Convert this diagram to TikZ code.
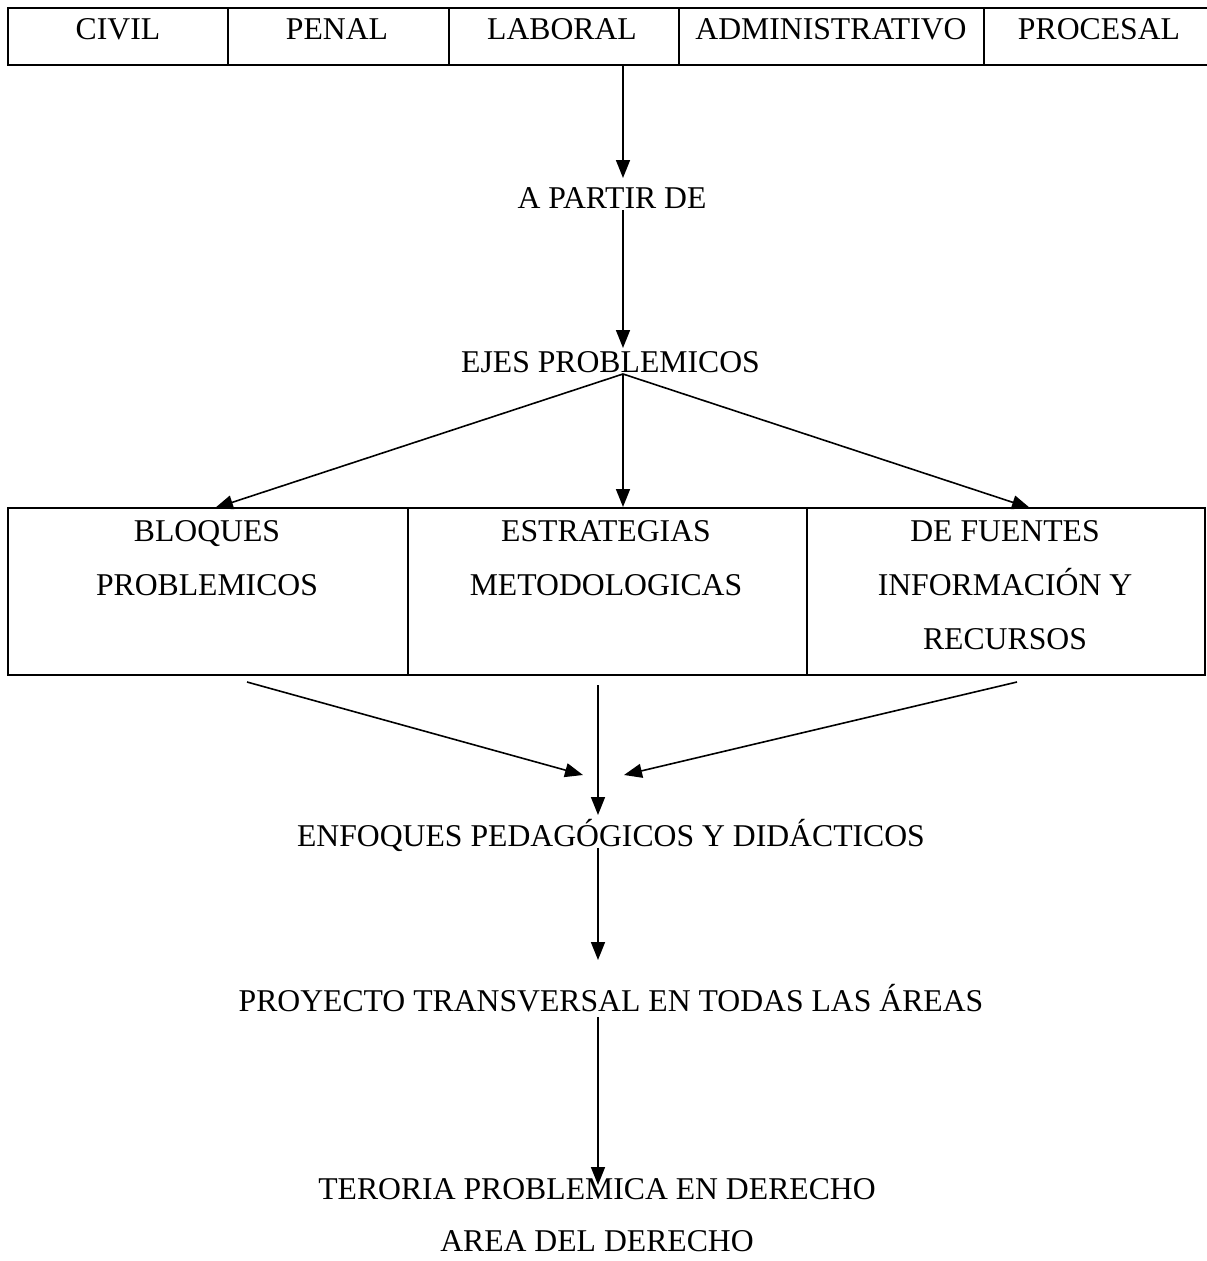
\documentclass[tikz,border=0pt]{standalone}
\usepackage{fontspec}
\setmainfont{Liberation Serif}
\usetikzlibrary{arrows.meta}
\begin{document}
\begin{tikzpicture}[x=1pt,y=-1pt,
  txt/.style={font=\fontsize{31.7}{38}\selectfont, inner sep=0pt, anchor=base},
  arr/.style={line width=1.6pt, -{Triangle[length=18pt,width=14pt]}},
  frame/.style={line width=2pt},
  cell/.style={draw, line width=2pt, inner sep=0pt, minimum height=167pt}]
\useasboundingbox (0,0) rectangle (1207,1261);
% top table
\draw[line width=2.6pt] (1207,8) -- (8,8) -- (8,65) -- (1207,65);
\foreach \xx in {228,449,679,984} \draw[frame] (\xx,8) -- (\xx,65);
\node[txt] (civil) at (118,39) {CIVIL};
\node[txt] (penal) at (337,39) {PENAL};
\node[txt] (laboral) at (562,39) {LABORAL};
\node[txt] (admin) at (831,39) {ADMINISTRATIVO};
\node[txt] (procesal) at (1099,39) {PROCESAL};
\coordinate (tabbot) at (623,65);
% middle texts
\node[txt] (partir) at (612,208) {A PARTIR DE};
\node[txt] (ejes) at (610.5,372) {EJES PROBLEMICOS};
\coordinate (p1) at (623,178);
\coordinate (p2) at (623,210);
\coordinate (ejtop) at (623,348);
\coordinate (ejbot) at (623,374);
% box
\node[cell, minimum width=400pt] (bloq) at (208,591.5) {};
\node[cell, minimum width=399pt] (estr) at (607.5,591.5) {};
\node[cell, minimum width=398pt] (fuen) at (1006,591.5) {};
\node[txt] at (207,541) {BLOQUES};
\node[txt] at (207,595) {PROBLEMICOS};
\node[txt] at (606,541) {ESTRATEGIAS};
\node[txt] at (606,595) {METODOLOGICAS};
\node[txt] at (1005,541) {DE FUENTES};
\node[txt] at (1005,595) {INFORMACIÓN Y};
\node[txt] at (1005,649) {RECURSOS};
\coordinate (bt1) at (215,508);
\coordinate (bt3) at (1030,508);
\coordinate (b1) at (247,682);
\coordinate (b2) at (598,685);
\coordinate (b3) at (1017,682);
\coordinate (m1) at (583,775);
\coordinate (m3) at (624,775);
% lower texts
\node[txt] (enf) at (611,846) {ENFOQUES PEDAGÓGICOS Y DIDÁCTICOS};
\node[txt] (proy) at (611,1011) {PROYECTO TRANSVERSAL EN TODAS LAS ÁREAS};
\node[txt] (teo) at (597,1199) {TERORIA PROBLEMICA EN DERECHO};
\node[txt] (area) at (597,1251) {AREA DEL DERECHO};
\coordinate (e1) at (598,815);
\coordinate (e2) at (598,848);
\coordinate (e3) at (598,960);
\coordinate (e4) at (598,1017);
\coordinate (e5) at (598,1185);
% arrows
\draw[arr] (tabbot) -- (p1);
\draw[arr] (p2) -- (ejtop);
\draw[arr] (ejbot) -- (bt1);
\draw[arr] (ejbot) -- (estr.north -| ejbot);
\draw[arr] (ejbot) -- (bt3);
\draw[arr] (b1) -- (m1);
\draw[arr] (b3) -- (m3);
\draw[arr] (b2) -- (e1);
\draw[arr] (e2) -- (e3);
\draw[arr] (e4) -- (e5);
\end{tikzpicture}
\end{document}
